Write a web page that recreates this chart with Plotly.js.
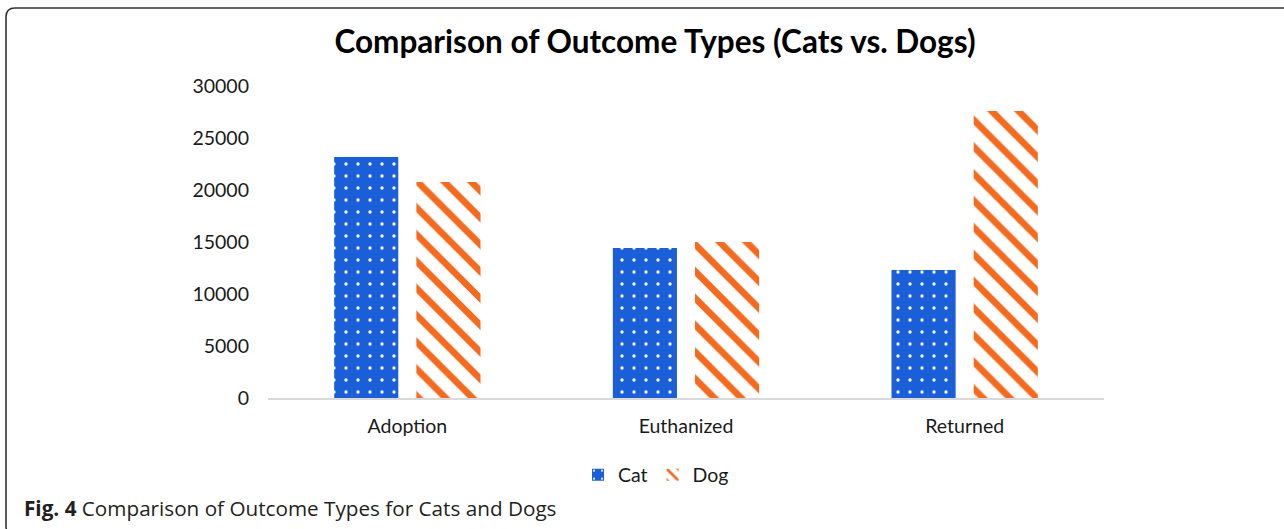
<!DOCTYPE html>
<html>
<head>
<meta charset="utf-8">
<script src="https://cdn.plot.ly/plotly-3.0.1.min.js"></script>
<style>
  html, body { margin: 0; padding: 0; background: #fff; }
  #chart { width: 1284px; height: 529px; }
</style>
</head>
<body>
<div id="chart"></div>
<script>
// Outcome counts by type for cats and dogs
const outcomes = ["Adoption", "Euthanized", "Returned"];
const catCounts = [23170, 14420, 12310];
const dogCounts = [20770, 15000, 27600];
const yTicks = [0, 5000, 10000, 15000, 20000, 25000, 30000];

const W = 1284, H = 529;
const M = { l: 268, r: 180, t: 86, b: 131 };
const pw = W - M.l - M.r, ph = H - M.t - M.b;
// pixel -> paper helpers for the frame and caption
const px = x => (x - M.l) / pw;
const py = y => (H - M.b - y) / ph;

const labelFont = { family: "Lato, 'Open Sans', sans-serif", size: 19.5, color: "#1a1a1a" };

const cat = {
  type: "bar", name: "Cat", x: outcomes, y: catCounts,
  marker: {
    color: "#1a5fd8",
    line: { width: 0 },
    pattern: { shape: ".", bgcolor: "#1a5fd8", fgcolor: "#ffffff", size: 12, solidity: 0.06, fillmode: "replace" }
  },
  hoverinfo: "x+y"
};
const dog = {
  type: "bar", name: "Dog", x: outcomes, y: dogCounts,
  marker: {
    color: "#f46a1f",
    line: { width: 0 },
    pattern: { shape: "\\", bgcolor: "#ffffff", fgcolor: "#f46a1f", size: 19, solidity: 0.35, fillmode: "replace" }
  },
  hoverinfo: "x+y"
};

// rounded frame around the figure (right and bottom edges run off the page)
const r = 9;
const x0 = px(6), x1 = px(1290), y0 = py(8), y1 = py(535);
const rx = r / pw, ry = r / ph;
const framePath = `M ${x1} ${y0} L ${x0 + rx} ${y0} Q ${x0} ${y0} ${x0} ${y0 - ry} ` +
  `L ${x0} ${y1 + ry} Q ${x0} ${y1} ${x0 + rx} ${y1} L ${x1} ${y1}`;

const layout = {
  width: W, height: H,
  margin: M,
  paper_bgcolor: "#ffffff", plot_bgcolor: "#ffffff",
  title: {
    text: "<b>Comparison of Outcome Types (Cats vs. Dogs)</b>",
    font: { family: "Lato, 'Open Sans', sans-serif", size: 31.5, color: "#000000" },
    x: px(655), xref: "paper", xanchor: "center",
    y: 1 - 42 / H, yanchor: "middle"
  },
  barmode: "group",
  bargap: 0.41,
  bargroupgap: 0.22,
  xaxis: {
    showline: true, linecolor: "#d9d9d9", linewidth: 2,
    showgrid: false, zeroline: false, ticks: "",
    tickfont: labelFont, ticklabelstandoff: 10,
    fixedrange: true
  },
  yaxis: {
    range: [0, 30000], tickvals: yTicks, ticktext: yTicks.map(String),
    showgrid: false, zeroline: false, showline: false, ticks: "",
    tickfont: labelFont, ticklabelstandoff: 18,
    fixedrange: true
  },
  showlegend: true,
  legend: {
    orientation: "h", x: px(656), xanchor: "center", y: py(475), yanchor: "middle",
    font: labelFont, itemwidth: 30, tracegroupgap: 0, bgcolor: "rgba(0,0,0,0)"
  },
  shapes: [{
    type: "path", xref: "paper", yref: "paper", path: framePath,
    line: { color: "#333333", width: 1.6 }, layer: "above"
  }],
  annotations: [{
    xref: "paper", yref: "paper", x: px(22), y: py(508),
    xanchor: "left", yanchor: "middle", showarrow: false,
    text: "<b>Fig. 4</b> Comparison of Outcome Types for Cats and Dogs",
    font: { family: "'Open Sans', sans-serif", size: 20.7, color: "#231f20" }
  }]
};

Plotly.newPlot("chart", [cat, dog], layout, { displayModeBar: false, staticPlot: true });
</script>
</body>
</html>
